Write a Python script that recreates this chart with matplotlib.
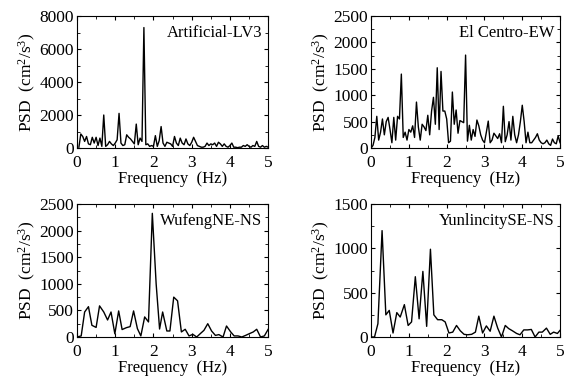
import matplotlib
matplotlib.use("Agg")
import matplotlib.pyplot as plt
from matplotlib.ticker import MultipleLocator

plt.rcParams['font.family'] = ['Liberation Serif', 'DejaVu Serif']
plt.rcParams['mathtext.fontset'] = 'custom'
plt.rcParams['mathtext.rm'] = 'Liberation Serif'
plt.rcParams['mathtext.it'] = 'Liberation Serif:italic'

# Artificial-LV3 (0.05 Hz bins)
f_art = [0.05, 0.10, 0.15, 0.20, 0.25, 0.30, 0.35, 0.40, 0.45, 0.50,
         0.55, 0.60, 0.65, 0.70, 0.75, 0.80, 0.85, 0.90, 0.95, 1.00,
         1.05, 1.10, 1.15, 1.20, 1.25, 1.30, 1.35, 1.40, 1.45, 1.50,
         1.55, 1.60, 1.65, 1.70, 1.75, 1.80, 1.85, 1.90, 1.95, 2.00,
         2.05, 2.10, 2.15, 2.20, 2.25, 2.30, 2.35, 2.40, 2.45, 2.50,
         2.55, 2.60, 2.65, 2.70, 2.75, 2.80, 2.85, 2.90, 2.95, 3.00,
         3.05, 3.10, 3.15, 3.20, 3.25, 3.30, 3.35, 3.40, 3.45, 3.50,
         3.55, 3.60, 3.65, 3.70, 3.75, 3.80, 3.85, 3.90, 3.95, 4.00,
         4.05, 4.10, 4.15, 4.20, 4.25, 4.30, 4.35, 4.40, 4.45, 4.50,
         4.55, 4.60, 4.65, 4.70, 4.75, 4.80, 4.85, 4.90, 4.95, 5.00]
psd_art = [50, 850, 700, 400, 700, 250, 200, 650, 300, 650,
           150, 600, 100, 2000, 100, 200, 400, 250, 150, 300,
           500, 2100, 300, 150, 200, 800, 650, 550, 400, 250,
           1450, 200, 600, 400, 7300, 200, 250, 100, 150, 100,
           750, 100, 450, 1300, 300, 100, 350, 300, 250, 100,
           700, 300, 150, 600, 300, 200, 550, 250, 150, 350,
           650, 400, 150, 100, 50, 50, 100, 300, 150, 250,
           200, 300, 100, 350, 250, 100, 250, 100, 50, 150,
           300, 50, 50, 20, 50, 50, 150, 100, 200, 100,
           50, 150, 100, 400, 100, 50, 150, 50, 100, 50]

# El Centro-EW (0.05 Hz bins)
f_elc = [0.00] + f_art
psd_elc = [0, 50, 200, 600, 150, 300, 550, 250, 500, 580, 350,
           100, 580, 150, 600, 550, 1400, 200, 300, 150, 350,
           300, 420, 200, 870, 400, 150, 450, 400, 330, 620,
           250, 700, 960, 450, 1520, 350, 1450, 700, 700, 550,
           100, 130, 1060, 450, 720, 280, 520, 500, 480, 1760,
           130, 430, 150, 350, 220, 530, 420, 250, 150, 100,
           300, 510, 100, 150, 280, 230, 180, 270, 100, 790,
           120, 250, 500, 150, 600, 250, 100, 250, 500, 810,
           500, 100, 300, 100, 100, 150, 200, 270, 150, 100,
           80, 100, 150, 80, 50, 170, 100, 80, 230, 100]

# WufengNE-NS (~0.1 Hz bins)
f_wuf = [0.00, 0.11, 0.20, 0.30, 0.39, 0.50, 0.59, 0.70, 0.80, 0.89,
         0.99, 1.09, 1.18, 1.29, 1.39, 1.48, 1.58, 1.67, 1.77, 1.87,
         1.97, 2.07, 2.16, 2.24, 2.35, 2.43, 2.53, 2.63, 2.73, 2.83,
         2.93, 3.03, 3.13, 3.22, 3.32, 3.42, 3.52, 3.62, 3.71, 3.82,
         3.91, 4.02, 4.11, 4.21, 4.31, 4.41, 4.50, 4.61, 4.70, 4.80,
         4.90, 5.00]
psd_wuf = [0, 20, 470, 570, 220, 180, 585, 470, 320, 470,
           60, 490, 140, 175, 195, 490, 157, 20, 377, 283,
           2325, 1000, 150, 470, 113, 113, 750, 680, 95, 145,
           20, 50, 0, 60, 125, 250, 113, 30, 45, 0,
           207, 95, 20, 20, 0, 30, 60, 95, 145, 0,
           20, 145]

# YunlincitySE-NS (~0.1 Hz bins)
f_yun = [0.00, 0.09, 0.18, 0.29, 0.39, 0.48, 0.58, 0.68, 0.77, 0.88,
         0.98, 1.07, 1.17, 1.27, 1.37, 1.47, 1.57, 1.66, 1.76, 1.87,
         1.96, 2.06, 2.16, 2.26, 2.36, 2.46, 2.55, 2.66, 2.76, 2.85,
         2.95, 3.05, 3.15, 3.25, 3.35, 3.45, 3.55, 3.64, 3.74, 3.85,
         3.94, 4.04, 4.14, 4.24, 4.34, 4.44, 4.53, 4.64, 4.74, 4.83,
         4.93, 5.00]
psd_yun = [0, 0, 150, 1200, 250, 300, 45, 275, 225, 365,
           130, 170, 680, 205, 740, 120, 990, 250, 195, 195,
           170, 45, 55, 130, 70, 30, 25, 30, 55, 235,
           45, 125, 65, 235, 100, 0, 130, 95, 70, 40,
           25, 80, 80, 85, 0, 55, 55, 100, 30, 55,
           40, 75]

panels = [
    (f_art, psd_art, 'Artificial-LV3', 8000, 2000, [0.1365, 0.6115, 0.339, 0.3465]),
    (f_elc, psd_elc, 'El Centro-EW', 2500, 500, [0.658, 0.6115, 0.335, 0.3465]),
    (f_wuf, psd_wuf, 'WufengNE-NS', 2500, 500, [0.1365, 0.1155, 0.339, 0.349]),
    (f_yun, psd_yun, 'YunlincitySE-NS', 1500, 500, [0.658, 0.1155, 0.335, 0.349]),
]

fig = plt.figure(figsize=(5.64, 3.81), dpi=100)

for f, p, name, ymax, ystep, pos in panels:
    ax = fig.add_axes(pos)
    ax.plot(f, p, color='black', lw=1.0)
    ax.set_xlim(0, 5)
    ax.set_ylim(0, ymax)
    ax.xaxis.set_major_locator(MultipleLocator(1))
    ax.xaxis.set_minor_locator(MultipleLocator(0.5))
    ax.yaxis.set_major_locator(MultipleLocator(ystep))
    ax.yaxis.set_minor_locator(MultipleLocator(ystep / 2))
    ax.tick_params(which='both', direction='in', top=True, right=True, labelsize=12.5)
    ax.tick_params(axis='x', pad=5)
    ax.tick_params(axis='y', pad=2)
    ax.tick_params(which='major', length=3)
    ax.tick_params(which='minor', length=2)
    ax.set_xlabel('Frequency  (Hz)', fontsize=12, labelpad=0)
    ax.set_ylabel('PSD  (cm$^2$/s$^3$)', fontsize=12.5, labelpad=1)
    ax.text(0.97, 0.93, name, transform=ax.transAxes, ha='right', va='top', fontsize=12)

fig.savefig('out.png', dpi=100)
